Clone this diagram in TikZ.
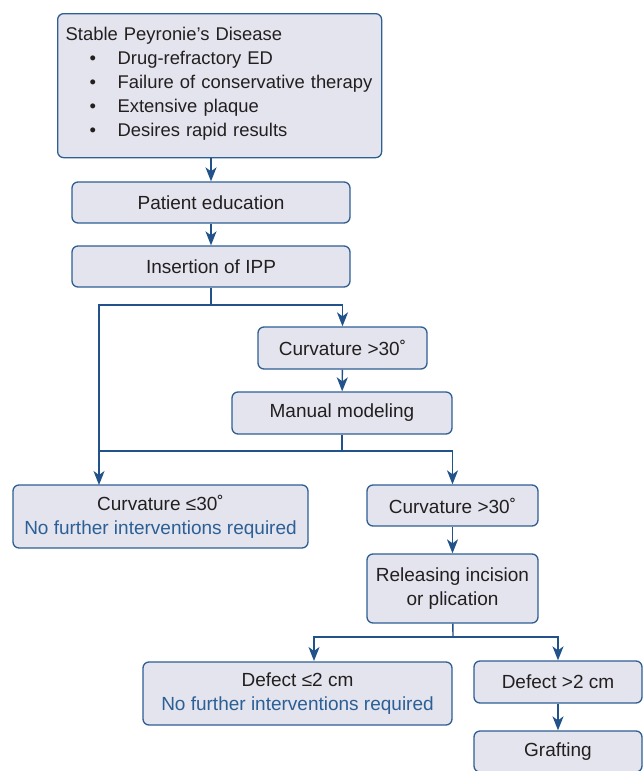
\documentclass[tikz,border=0pt]{standalone}
\usepackage{fontspec}
\setmainfont{Liberation Sans}
\usetikzlibrary{arrows.meta,positioning}
\definecolor{boxfill}{HTML}{E3E4EE}
\definecolor{boxline}{HTML}{2F5E93}
\definecolor{flowline}{HTML}{22528A}
\definecolor{bodytext}{HTML}{231F20}
\definecolor{notetext}{HTML}{2C5F95}
\tikzset{
    box/.style={draw=boxline,fill=boxfill,line width=1.3pt,rounded corners=6pt,
        text=bodytext,font=\fontsize{19}{24}\selectfont,align=center,inner sep=0pt},
    link/.style={draw=flowline,line width=1.4pt},
    flow/.style={link,-{Stealth[length=14pt,width=11pt,inset=4pt]}}
}
\newcommand{\note}[1]{\textcolor{notetext}{#1}}
\newcommand{\bul}[1]{\hspace*{24pt}\makebox[28pt][l]{\textbullet}\mbox{#1}}

\begin{document}
\begin{tikzpicture}[x=1pt,y=-1pt]
            \useasboundingbox (0,0) rectangle (643,771);
            \node [box,anchor=north west,align=left,text width=308pt,inner xsep=8pt,
                minimum height=144pt,font=\fontsize{18.4}{24}\selectfont] (stable) at (57,13)
                {Stable Peyronie’s Disease\\
                \bul{Drug-refractory ED}\\
                \bul{Failure of conservative therapy}\\
                \bul{Extensive plaque}\\
                \bul{Desires rapid results}\rule[-8pt]{0pt}{8pt}};
            \node [box,minimum width=278pt,minimum height=41pt] (educ) at (211,202.5) {Patient education};
            \node [box,minimum width=278pt,minimum height=41pt] (ipp) at (211,266.5) {Insertion of IPP};
            \node [box,minimum width=169pt,minimum height=42pt] (curv1) at (342.5,348) {Curvature >30˚};
            \node [box,minimum width=220pt,minimum height=42pt] (manual) at (342,413) {Manual modeling};
            \node [box,minimum width=295pt,minimum height=63pt] (le30) at (160.5,516.5)
                {Curvature ≤30˚\\ \note{No further interventions required}};
            \node [box,minimum width=171pt,minimum height=41pt] (curv2) at (452.5,505.5) {Curvature >30˚};
            \node [box,minimum width=171pt,minimum height=69pt] (release) at (452.5,588.5)
                {Releasing incision\\ or plication};
            \node [box,minimum width=309pt,minimum height=63pt] (defle) at (297.5,693.5)
                {Defect ≤2 cm\\ \note{No further interventions required}};
            \node [box,minimum width=168pt,minimum height=42pt] (defgt) at (558,682) {Defect >2 cm};
            \node [box,minimum width=168pt,minimum height=41pt] (graft) at (558,751.5) {Grafting};

            % forks and entry points
            \coordinate (fork1) at (211,305);
            \coordinate (fork2) at (342,451);
            \coordinate (fork3) at (453,637);
            \coordinate (le30in) at (99,485);
            \coordinate (defin) at (314,661);

            \draw [flow] (educ.north |- stable.south) -- (educ);
            \draw [flow] (educ) -- (ipp);
            \draw [link] (ipp) -- (fork1);
            \draw [flow] (fork1) -| (curv1);
            \draw [flow] (fork1) -| (le30in);
            \draw [flow] (curv1) -- (manual);
            \draw [link] (manual) -- (fork2);
            \draw [link] (fork2) -- (fork2 -| le30in);
            \draw [flow] (fork2) -| (curv2);
            \draw [flow] (curv2) -- (release);
            \draw [link] (release) -- (fork3);
            \draw [flow] (fork3) -| (defin);
            \draw [flow] (fork3) -| (defgt);
            \draw [flow] (defgt) -- (graft);
        \end{tikzpicture}
\end{document}
